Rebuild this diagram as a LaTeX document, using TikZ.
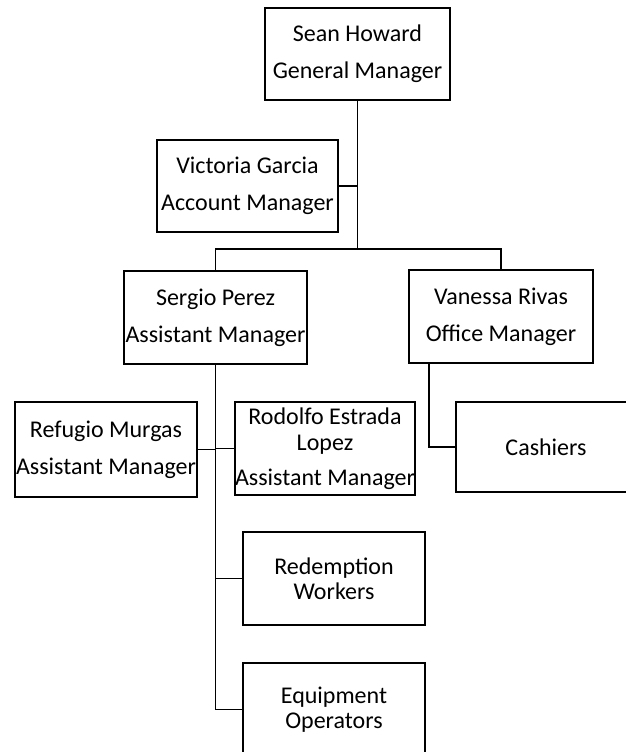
\documentclass[tikz,border=0pt]{standalone}
\usepackage{fontspec}
\setmainfont{Carlito}
\begin{document}
\begin{tikzpicture}[x=1pt,y=-1pt,
  orgbox/.style={draw=black, line width=1.3pt, fill=white, align=center, inner sep=0pt,
    font=\fontsize{24}{37}\selectfont},
  conn/.style={draw=black, line width=1.3pt}]
\useasboundingbox (0,0) rectangle (626,752);
\clip (0,0) rectangle (626,752);
\node[orgbox, minimum width=185pt, minimum height=92pt] (sean) at (357.5,54) {Sean Howard\\General Manager};
\node[orgbox, minimum width=181pt, minimum height=92pt] (victoria) at (247.5,186) {Victoria Garcia\\Account Manager};
\node[orgbox, minimum width=183pt, minimum height=93pt] (sergio) at (215.5,317.5) {Sergio Perez\\Assistant Manager};
\node[orgbox, minimum width=184pt, minimum height=93pt] (vanessa) at (501,316.5) {Vanessa Rivas\\Office Manager};
\node[orgbox, minimum width=182pt, minimum height=95pt] (refugio) at (106,449.5) {Refugio Murgas\\Assistant Manager};
\node[orgbox, minimum width=180pt, minimum height=93pt, font=\fontsize{24}{26}\selectfont] (rodolfo) at (325,448.5) {Rodolfo Estrada\\Lopez\\[9pt]Assistant Manager};
\node[orgbox, minimum width=180pt, minimum height=90pt] (cashiers) at (546,447) {Cashiers};
\node[orgbox, minimum width=182pt, minimum height=93pt, font=\fontsize{24}{25}\selectfont] (redemption) at (334,578.5) {Redemption\\Workers};
\node[orgbox, minimum width=182pt, minimum height=93pt, font=\fontsize{24}{25}\selectfont] (equipment) at (334,709.5) {Equipment\\Operators};
\coordinate (bus) at (357.5,249);
\path[conn] (sean.south) -- (bus);
\path[conn] (sergio.north) |- (bus) -| (vanessa.north);
\path[conn] (victoria.east) -- (victoria.east -| sean.south);
\path[conn] (sergio.south) -- (sergio.south |- equipment.west);
\path[conn] (refugio.east) -- (refugio.east -| sergio.south);
\path[conn] (rodolfo.west) -- (rodolfo.west -| sergio.south);
\path[conn] (redemption.west) -- (redemption.west -| sergio.south);
\path[conn] (equipment.west) -- (equipment.west -| sergio.south);
\path[conn] ([xshift=-72pt]vanessa.south) |- (cashiers.west);
\end{tikzpicture}
\end{document}
